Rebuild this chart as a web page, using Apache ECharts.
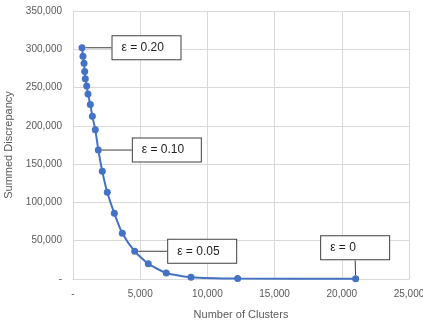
<!DOCTYPE html>
<html>
<head>
<meta charset="utf-8">
<script src="https://cdn.jsdelivr.net/npm/echarts@6/dist/echarts.min.js"></script>
<style>
  html, body { margin: 0; padding: 0; background: #fff; }
  #chart { width: 423px; height: 327px; }
</style>
</head>
<body>
<div id="chart"></div>
<script>
// cluster counts and summed discrepancy
const clusters = [670, 744, 820, 870, 915, 1020, 1116, 1290, 1440, 1660, 1885, 2180, 2550, 3075, 3670, 4590, 5600, 6940, 8780, 12250, 21030];
const discrepancy = [302000, 291000, 281600, 271000, 261500, 252000, 241500, 228000, 212400, 195000, 168400, 140600, 113200, 85800, 59700, 36200, 20000, 7800, 2200, 500, 300];

// callout text by point index
const calloutIndex = [0, 10, 15, 20];
const calloutText = ['ε = 0.20', 'ε = 0.10', 'ε = 0.05', 'ε = 0'];

// how far each callout box is moved away from its point
const calloutShift = [[27, 0], [31, 0], [30, 0], [-38, -31]];

const fmt = (v) => (v === 0 ? '-' : v.toLocaleString('en-US'));

let chartDom = document.getElementById('chart');
let myChart = echarts.init(chartDom);

const seriesData = clusters.map((x, i) => {
  const k = calloutIndex.indexOf(i);
  if (k < 0) return [x, discrepancy[i]];
  return {
    value: [x, discrepancy[i]],
    label: {
      show: true,
      formatter: calloutText[k],
      position: 'right',
      distance: 0,
      width: 50,
      height: 23,
      lineHeight: 23,
      padding: [0, 9, 0, 9],
      align: 'left',
      color: '#222',
      fontSize: 12,
      fontFamily: 'Liberation Sans',
      backgroundColor: '#fff',
      borderColor: '#404040',
      borderWidth: 1
    },
    labelLine: {
      show: true,
      lineStyle: { color: '#404040', width: 1 }
    }
  };
});

let option = {
  animation: false,
  grid: { left: 73, right: 14, top: 11, bottom: 48, outerBoundsMode: 'none' },
  xAxis: {
    type: 'value',
    min: 0,
    max: 25000,
    interval: 5000,
    name: 'Number of Clusters',
    nameLocation: 'middle',
    nameGap: 30,
    nameTextStyle: { color: '#595959', fontSize: 11, fontFamily: 'Liberation Sans' },
    axisLine: { show: true, lineStyle: { color: '#d9d9d9' } },
    axisTick: { show: false },
    axisLabel: { formatter: fmt, color: '#595959', fontSize: 10, margin: 10, fontFamily: 'Liberation Sans' },
    splitLine: { show: true, lineStyle: { color: '#d9d9d9' } }
  },
  yAxis: {
    type: 'value',
    min: 0,
    max: 350000,
    interval: 50000,
    name: 'Summed Discrepancy',
    nameLocation: 'middle',
    nameGap: 58,
    nameTextStyle: { color: '#595959', fontSize: 11, fontFamily: 'Liberation Sans' },
    axisLine: { show: true, lineStyle: { color: '#d9d9d9' } },
    axisTick: { show: false },
    axisLabel: { formatter: fmt, color: '#595959', fontSize: 10, margin: 11, fontFamily: 'Liberation Sans' },
    splitLine: { show: true, lineStyle: { color: '#d9d9d9' } }
  },
  series: [{
    type: 'line',
    data: seriesData,
    smooth: 0.2,
    symbol: 'circle',
    symbolSize: 7,
    itemStyle: { color: '#4472C4' },
    lineStyle: { color: '#4472C4', width: 2 },
    labelLayout: (params) => {
      const k = calloutIndex.indexOf(params.dataIndex);
      if (k < 0) return {};
      return { dx: calloutShift[k][0], dy: calloutShift[k][1] };
    }
  }]
};

myChart.setOption(option);
</script>
</body>
</html>
